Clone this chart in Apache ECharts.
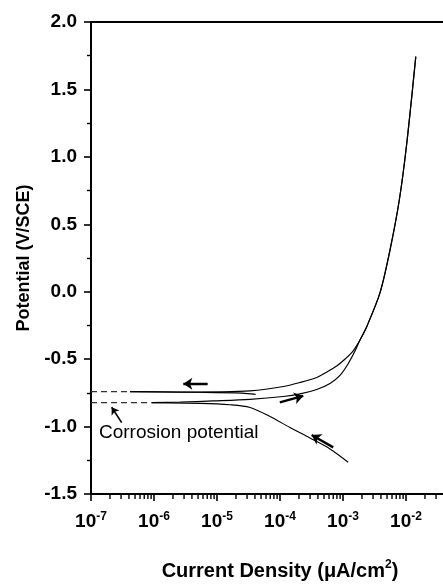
<!DOCTYPE html>
<html><head><meta charset="utf-8">
<script src="https://cdn.jsdelivr.net/npm/echarts@6/dist/echarts.min.js"></script>
<style>html,body{margin:0;padding:0;background:#fff}#c{width:443px;height:586px}</style>
</head><body><div id="c"></div>
<script>
// Current density (µA/cm²) and potential (V/SCE)
const cathodicForward = [
  [1.21e-3, -1.265], [6.22e-4, -1.166], [2.99e-4, -1.085], [1.44e-4, -1.007],
  [6.93e-5, -0.925], [3.34e-5, -0.858], [1.6e-5, -0.838], [5.37e-6, -0.828], [9.2e-7, -0.823]
];
const anodicForward = [
  [9.2e-7, -0.823], [2.59e-6, -0.819], [8.73e-6, -0.810], [3.34e-5, -0.798], [1.13e-4, -0.777],
  [2.08e-4, -0.758], [3.83e-4, -0.725], [6.22e-4, -0.681], [8.95e-4, -0.621], [1.2e-3, -0.536],
  [1.55e-3, -0.440], [1.86e-3, -0.358], [2.38e-3, -0.259], [3.86e-3, -0.009],
  [5.57e-3, 0.309], [7.83e-3, 0.680], [1.03e-2, 1.103], [1.43e-2, 1.743]
];
const reverseScan = [
  [1.43e-2, 1.743], [1.03e-2, 1.103], [7.83e-3, 0.680], [5.57e-3, 0.309], [3.86e-3, -0.009],
  [2.38e-3, -0.259], [1.86e-3, -0.358], [1.44e-3, -0.440], [1.08e-3, -0.499], [7.94e-4, -0.551],
  [5.18e-4, -0.603], [3.83e-4, -0.636], [2.08e-4, -0.673], [1.13e-4, -0.703], [3.34e-5, -0.736],
  [1.12e-5, -0.743], [2.59e-6, -0.744], [4.16e-7, -0.741]
];
const reverseTip = [
  [4.16e-7, -0.741], [5.4e-6, -0.746], [2.5e-5, -0.752], [4.1e-5, -0.761]
];
const dashReverse = [[1e-7, -0.741], [4.16e-7, -0.741]];
const dashForward = [[1e-7, -0.823], [9.2e-7, -0.823]];
const scanArrows = [
  [[7.11e-6, -0.682], [2.92e-6, -0.682]],
  [[9.93e-5, -0.820], [2.34e-4, -0.773]],
  [[7.0e-4, -1.154], [3.18e-4, -1.063]]
];
const noteArrow = [[[3.07e-7, -0.971], [2.13e-7, -0.857]]];
const noteText = 'Corrosion potential';
const xMinorTicks = [];
[1e-7, 1e-6, 1e-5, 1e-4, 1e-3, 1e-2].forEach(function (d) {
  [2, 3, 4, 5, 6, 7, 8, 9].forEach(function (k) { xMinorTicks.push([+(d * k).toPrecision(3), -1.5]); });
});
const yTicks = { min: -1.5, max: 2.0, step: 0.5 };
const xRange = { min: 1e-7, max: 1e-1 };
const xTitle = '{a|Current Density (μA/cm}{s|2}{a|)}';
const yTitle = 'Potential (V/SCE)';

const FONT = 'Liberation Sans, Arial, sans-serif';
const chart = echarts.init(document.getElementById('c'), null, { renderer: 'canvas' });
function curve(data, w) {
  return { type: 'line', data: data, showSymbol: false, smooth: 0.3, silent: true,
    lineStyle: { color: '#000', width: w }, z: 3 };
}
function dash(data) {
  return { type: 'line', data: data, showSymbol: false, silent: true,
    lineStyle: { color: '#333', width: 1.3, type: [6, 4] }, z: 3 };
}
chart.setOption({
  animation: false,
  grid: { left: 91, top: 22, width: 378, height: 472, show: true, borderColor: '#000', borderWidth: 2,
    backgroundColor: 'transparent', containLabel: false, outerBoundsMode: 'none' },
  xAxis: {
    type: 'log', logBase: 10, min: xRange.min, max: xRange.max,
    name: xTitle, nameLocation: 'middle', nameGap: 65,
    nameTextStyle: { rich: {
      a: { fontFamily: FONT, fontWeight: 'bold', fontSize: 20, lineHeight: 24, color: '#000' },
      s: { fontFamily: FONT, fontWeight: 'bold', fontSize: 12, lineHeight: 14, verticalAlign: 'top', color: '#000' } } },
    axisLine: { onZero: false, lineStyle: { color: '#000', width: 2 } },
    axisTick: { length: 7, lineStyle: { color: '#000', width: 1.6 } },
    minorTick: { show: false },
    splitLine: { show: false },
    axisLabel: {
      margin: 17,
      formatter: function (v) { return '{b|10}{s|' + Math.round(Math.log10(v)) + '}'; },
      rich: {
        b: { fontFamily: FONT, fontWeight: 'bold', fontSize: 19, lineHeight: 22, color: '#000' },
        s: { fontFamily: FONT, fontWeight: 'bold', fontSize: 12, lineHeight: 13, verticalAlign: 'top', color: '#000' }
      }
    }
  },
  yAxis: {
    type: 'value', min: yTicks.min, max: yTicks.max, interval: yTicks.step,
    name: yTitle, nameLocation: 'middle', nameGap: 54,
    nameTextStyle: { fontFamily: FONT, fontWeight: 'bold', fontSize: 18, color: '#000' },
    axisLine: { onZero: false, lineStyle: { color: '#000', width: 2 } },
    axisTick: { length: 7, lineStyle: { color: '#000', width: 1.6 } },
    minorTick: { show: true, splitNumber: 2, length: 4, lineStyle: { color: '#000', width: 1.4 } },
    splitLine: { show: false },
    axisLabel: { margin: 14, fontFamily: FONT, fontWeight: 'bold', fontSize: 19, color: '#000',
      formatter: function (v) { return v.toFixed(1); } }
  },
  series: [
    curve(cathodicForward, 1.1),
    curve(anodicForward, 1.2),
    curve(reverseScan, 1.2),
    curve(reverseTip, 1.1),
    dash(dashReverse),
    dash(dashForward),
    { type: 'lines', coordinateSystem: 'cartesian2d', silent: true, z: 4,
      symbol: ['none', 'arrow'], symbolSize: 9,
      lineStyle: { color: '#000', width: 2.4, opacity: 1 },
      data: scanArrows.map(function (c) { return { coords: c }; }) },
    { type: 'lines', coordinateSystem: 'cartesian2d', silent: true, z: 4,
      symbol: ['none', 'arrow'], symbolSize: 7,
      lineStyle: { color: '#000', width: 1.6, opacity: 1 },
      data: noteArrow.map(function (c) { return { coords: c }; }) },
    { type: 'custom', silent: true, z: 5, clip: false, data: xMinorTicks, encode: { x: 0, y: 1 },
      renderItem: function (params, api) {
        const p = api.coord([api.value(0), api.value(1)]);
        return { type: 'line', shape: { x1: p[0], y1: p[1], x2: p[0], y2: p[1] + 5 },
          style: { stroke: '#000', lineWidth: 1.4 } };
      } }
  ],
  graphic: [{ type: 'text', left: 99, top: 423, silent: true,
    style: { text: noteText, fontFamily: FONT, fontSize: 19, fill: '#000' } }]
});
</script></body></html>
